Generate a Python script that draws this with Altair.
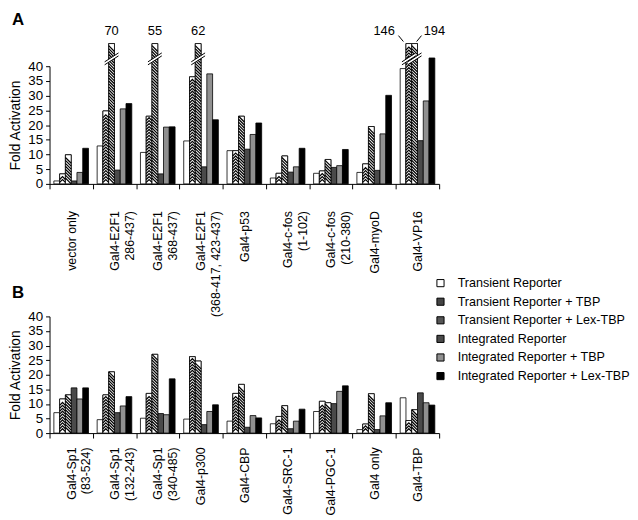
import altair as alt
import pandas as pd

FONT = "Liberation Sans"

series = ["Transient Reporter", "Transient Reporter + TBP", "Transient Reporter + Lex-TBP",
          "Integrated Reporter", "Integrated Reporter + TBP", "Integrated Reporter + Lex-TBP"]
colors = ["#ffffff", "#444444", "#555555", "#4a4a4a", "#909090", "#000000"]

# Panel A
cats_A = ["vector only", "Gal4-E2F1\n286-437)", "Gal4-E2F1\n368-437)",
          "Gal4-E2F1\n(368-417, 423-437)", "Gal4-p53", "Gal4-c-fos\n(1-102)",
          "Gal4-c-fos\n(210-380)", "Gal4-myoD", "Gal4-VP16"]
transient_A = [1.0, 12.9, 10.7, 14.6, 11.3, 2.0, 3.6, 3.9, 39.2]
tbp_A = [3.4, 24.8, 23.0, 36.4, 11.3, 3.6, 4.4, 6.8, 146]
lex_A = [9.9, 70, 55, 62, 23.0, 9.5, 8.3, 19.5, 194]
int_A = [1.0, 4.7, 3.4, 5.8, 11.8, 4.0, 5.6, 4.6, 14.7]
inttbp_A = [3.9, 25.5, 19.3, 37.4, 16.8, 5.8, 6.2, 17.0, 28.2]
intlex_A = [12.1, 27.3, 19.4, 21.8, 20.7, 12.1, 11.7, 30.1, 42.8]

# Panel B
cats_B = ["Gal4-Sp1\n(83-524)", "Gal4-Sp1\n(132-243)", "Gal4-Sp1\n(340-485)", "Gal4-p300",
          "Gal4-CBP", "Gal4-SRC-1", "Gal4-PGC-1", "Gal4 only", "Gal4-TBP"]
transient_B = [7.0, 4.6, 5.1, 4.8, 4.1, 3.2, 7.4, 1.2, 12.1]
tbp_B = [11.7, 13.1, 13.6, 26.2, 13.6, 5.7, 10.9, 3.1, 4.3]
lex_B = [13.1, 21.0, 27.0, 24.7, 16.7, 9.4, 10.4, 13.5, 8.0]
int_B = [15.5, 7.0, 6.7, 2.9, 2.0, 1.5, 10.1, 1.2, 13.8]
inttbp_B = [11.7, 9.3, 6.3, 7.4, 6.0, 4.1, 14.3, 5.9, 10.4]
intlex_B = [15.5, 12.5, 18.6, 9.7, 5.2, 8.2, 16.2, 10.4, 9.6]

AXIS_MAX = 40
CAP = 47.7          # drawn height of broken (off-scale) bars
HATCH_STEP = 1.0    # spacing of hatch strokes, in axis units
HATCH_SHAPES = {series[1]: "M -1 0.5 L 0 -0.5 L 1 0.5",   # chevrons
                series[2]: "M -1 -1 L 1 1"}               # diagonal stripes
BAR_PX = 5.84


def long_df(cats, vals_list):
    rows = []
    for s, vals in zip(series, vals_list):
        for c, v in zip(cats, vals):
            rows.append({"cat": c, "series": s, "value": v, "shown": min(v, CAP)})
    return pd.DataFrame(rows)


def hatch_df(df):
    rows = []
    for _, r in df[df["series"].isin(list(HATCH_SHAPES))].iterrows():
        y = HATCH_STEP
        while y <= r["shown"] - 1.0:
            rows.append({"cat": r["cat"], "series": r["series"], "shown": y})
            y += HATCH_STEP
    return pd.DataFrame(rows)


df_A = long_df(cats_A, [transient_A, tbp_A, lex_A, int_A, inttbp_A, intlex_A])
df_B = long_df(cats_B, [transient_B, tbp_B, lex_B, int_B, inttbp_B, intlex_B])

# broken bars and where their value labels sit
brk = df_A[df_A["value"] > CAP].copy()
counts = brk.groupby("cat")["series"].transform("count")
brk["side"] = "center"
brk.loc[(counts > 1) & (brk["series"] == series[1]), "side"] = "left"
brk.loc[(counts > 1) & (brk["series"] == series[2]), "side"] = "right"

color_enc = alt.Color(
    "series:N", sort=series, scale=alt.Scale(domain=series, range=colors),
    legend=alt.Legend(title=None, orient="none", legendX=389, legendY=213,
                      symbolType="square", symbolSize=52, symbolStrokeColor="black",
                      symbolStrokeWidth=1, labelFontSize=12.7, labelFont=FONT,
                      labelColor="black", rowPadding=4.8, labelOffset=11, labelLimit=300))

Y_SCALE = alt.Scale(domain=[0, AXIS_MAX], nice=False)
Y_AXIS = alt.Axis(values=list(range(0, AXIS_MAX + 1, 5)), title="Fold Activation",
                  grid=False, tickSize=4, labelPadding=3, labelFontSize=13.5,
                  labelOverlap=False, labelFont=FONT, titleFont=FONT,
                  titleFontSize=14, titleFontWeight="normal", titlePadding=5,
                  labelColor="black", titleColor="black", domainColor="black",
                  tickColor="black")


def enc_x(cats, label_pad):
    return alt.X("cat:N", sort=cats, scale=alt.Scale(paddingInner=0, paddingOuter=0),
                 axis=alt.Axis(title=None, labelAngle=-90, labelAlign="right",
                               labelBaseline="middle", labelExpr="split(datum.label, '\\n')",
                               labelLineHeight=15, tickBand="extent", tickSize=5,
                               labelPadding=label_pad, labelFontSize=12.5, labelFont=FONT,
                               labelColor="black", domainColor="black", tickColor="black"))


enc_xo = alt.XOffset("series:N", sort=series,
                     scale=alt.Scale(domain=series, paddingInner=0, paddingOuter=0.75))


def enc_y():
    return alt.Y("shown:Q", scale=Y_SCALE, axis=Y_AXIS)


def at_y(v):
    return alt.YDatum(v, scale=Y_SCALE, axis=Y_AXIS)


def bar_layers(df, cats, label_pad):
    x = enc_x(cats, label_pad)
    base = alt.Chart(df)
    solid = base.mark_bar(stroke="black", strokeWidth=0.8).encode(
        x=x, xOffset=enc_xo, y=enc_y(), color=color_enc)
    hatched_bg = base.transform_filter(
        alt.FieldOneOfPredicate(field="series", oneOf=list(HATCH_SHAPES))
    ).mark_bar(fill="white", stroke="black", strokeWidth=0.8).encode(
        x=x, xOffset=enc_xo, y=enc_y())
    layers = [solid, hatched_bg]
    hd = hatch_df(df)
    for s, path in HATCH_SHAPES.items():
        layers.append(
            alt.Chart(hd).transform_filter(alt.datum.series == s).mark_point(
                shape=path, size=BAR_PX ** 2, filled=False, stroke="black",
                strokeWidth=1.25, opacity=1
            ).encode(x=x, xOffset=enc_xo, y=enc_y())
        )
    return layers


band_path = "M -1 0.43 L 1 -0.86 L 1 -0.43 L -1 0.86 Z"
line_path = "M -1 0.43 L 1 -0.86 M -1 0.86 L 1 -0.43"

xA = enc_x(cats_A, 22)
brk_base = alt.Chart(brk).encode(x=xA, xOffset=enc_xo)
break_fill = brk_base.mark_point(shape=band_path, size=196, filled=True, fill="white",
                                 strokeWidth=0, opacity=1).encode(y=at_y(42.5))
break_lines = brk_base.mark_point(shape=line_path, size=196, filled=False, stroke="black",
                                  strokeWidth=1, opacity=1).encode(y=at_y(42.5))


def lbl(side, dx):
    return brk_base.transform_filter(alt.datum.side == side).mark_text(
        fontSize=13, font=FONT, color="black", baseline="middle", dx=dx
    ).encode(y=at_y(52.1), text=alt.Text("value:Q", format="d"))


lead_left = brk_base.transform_filter(alt.datum.side == "left").mark_point(
    shape="M -0.875 -0.25 L -0.46 0.25", size=576, filled=False, stroke="black",
    strokeWidth=1, opacity=1).encode(y=at_y(49.4))
lead_right = brk_base.transform_filter(alt.datum.side == "right").mark_point(
    shape="M 0.58 -0.25 L 0.17 0.25", size=576, filled=False, stroke="black",
    strokeWidth=1, opacity=1).encode(y=at_y(49.4))

panel_A = alt.layer(
    *bar_layers(df_A, cats_A, 22), break_fill, break_lines,
    lbl("center", 0), lbl("left", -25), lbl("right", 20), lead_left, lead_right
).properties(
    width=394, height=119,
    title=alt.TitleParams("A", anchor="start", frame="group", fontSize=17, fontWeight="bold",
                          font=FONT, color="black", dx=-38, offset=-4)
)

panel_B = alt.layer(*bar_layers(df_B, cats_B, 9)).properties(
    width=394, height=118,
    title=alt.TitleParams("B", anchor="start", frame="group", fontSize=17, fontWeight="bold",
                          font=FONT, color="black", dx=-38, offset=8)
)

chart = alt.vconcat(panel_A, panel_B, spacing=134, bounds="flush").properties(
    padding=0
).configure_view(stroke=None)

chart.save("out.html", embed_options={"renderer": "svg", "actions": False})
